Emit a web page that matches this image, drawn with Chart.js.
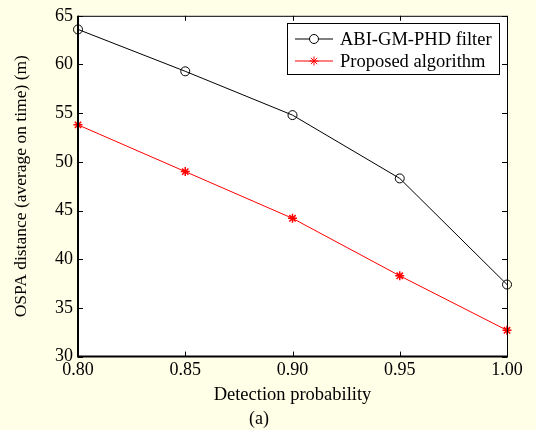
<!DOCTYPE html>
<html>
<head>
<meta charset="utf-8">
<script src="https://cdn.jsdelivr.net/npm/chart.js@4/dist/chart.umd.min.js"></script>
<style>
  html, body { margin: 0; padding: 0; background: #fffee6; }
  #wrap { width: 536px; height: 430px; }
</style>
</head>
<body>
<div id="wrap"><canvas id="lineChart"></canvas></div>
<script>
// data
var detectionProb = [0.80, 0.85, 0.90, 0.95, 1.00];
var abiGmPhd = [63.6, 59.3, 54.8, 48.3, 37.4];
var proposed = [53.8, 49.0, 44.2, 38.3, 32.7];
var xTicks = [0.80, 0.85, 0.90, 0.95, 1.00];
var yTicks = [30, 35, 40, 45, 50, 55, 60, 65];

var serif = "'Liberation Serif', 'Times New Roman', serif";

// white plot area, frame box and inward ticks on all sides
var frameTicks = {
    id: 'frameTicks',
    beforeDatasetsDraw: function (chart) {
        var a = chart.chartArea, c = chart.ctx;
        c.save();
        c.fillStyle = '#ffffff';
        c.fillRect(a.left, a.top, a.right - a.left, a.bottom - a.top);
        c.restore();
    },
    afterDraw: function (chart) {
        var a = chart.chartArea, c = chart.ctx;
        var xs = chart.scales.x, ys = chart.scales.y;
        var len = 5;
        c.save();
        c.strokeStyle = '#000';
        // top and right thin, left and bottom heavier
        c.lineWidth = 1;
        c.beginPath();
        c.moveTo(a.left, a.top + 0.5); c.lineTo(a.right + 0.5, a.top + 0.5);
        c.lineTo(a.right + 0.5, a.bottom);
        c.stroke();
        c.lineWidth = 2;
        c.beginPath();
        c.moveTo(a.left, a.top); c.lineTo(a.left, a.bottom); c.lineTo(a.right + 1, a.bottom);
        c.stroke();
        c.lineWidth = 1;
        c.beginPath();
        xTicks.forEach(function (v) {
            var px = Math.round(xs.getPixelForValue(v)) + 0.5;
            c.moveTo(px, a.bottom); c.lineTo(px, a.bottom - len);
            c.moveTo(px, a.top); c.lineTo(px, a.top + len);
        });
        yTicks.forEach(function (v) {
            var py = Math.round(ys.getPixelForValue(v)) + 0.5;
            c.moveTo(a.left, py); c.lineTo(a.left + len, py);
            c.moveTo(a.right, py); c.lineTo(a.right - len, py);
        });
        c.stroke();

        // legend box, matlab style
        var bx = 287, by = 23, bw = 212, bh = 51;
        c.fillStyle = '#fff';
        c.fillRect(bx, by, bw, bh);
        c.strokeStyle = '#000';
        c.lineWidth = 1;
        c.strokeRect(bx + 0.5, by + 0.5, bw, bh);
        c.font = '18.5px ' + serif;
        c.textBaseline = 'middle';
        chart.data.datasets.forEach(function (ds, i) {
            var ly = by + 16 + i * 22;
            c.strokeStyle = ds.borderColor;
            c.lineWidth = 1;
            c.beginPath();
            c.moveTo(bx + 8, ly); c.lineTo(bx + 46, ly);
            c.stroke();
            Chart.helpers.drawPoint(c, {
                pointStyle: ds.pointStyle,
                radius: ds.pointRadius,
                borderWidth: 1
            }, bx + 27, ly);
            c.fillStyle = '#000';
            c.fillText(ds.label, bx + 53, ly + 1);
        });
        c.restore();
    }
};

var ctx = document.getElementById('lineChart').getContext('2d');

new Chart(ctx, {
    type: 'line',
    data: {
        labels: detectionProb,
        datasets: [{
            label: 'ABI-GM-PHD filter',
            data: detectionProb.map(function (x, i) { return { x: x, y: abiGmPhd[i] }; }),
            borderColor: '#000000',
            backgroundColor: 'rgba(255,255,255,0)',
            borderWidth: 1,
            pointStyle: 'circle',
            pointRadius: 4.5,
            pointBorderWidth: 1,
            tension: 0
        }, {
            label: 'Proposed algorithm',
            data: detectionProb.map(function (x, i) { return { x: x, y: proposed[i] }; }),
            borderColor: '#ff0000',
            backgroundColor: '#ff0000',
            borderWidth: 1,
            pointStyle: 'star',
            pointRadius: 4.5,
            pointBorderWidth: 1.5,
            tension: 0
        }]
    },
    options: {
        responsive: true,
        maintainAspectRatio: false,
        animation: false,
        clip: false,
        layout: { padding: { top: 14, right: 29, left: 11, bottom: 0 } },
        plugins: {
            legend: { display: false },
            tooltip: { enabled: false },
            title: {
                display: true,
                position: 'bottom',
                text: '(a)',
                color: '#000',
                font: { family: serif, size: 18, weight: 'normal' },
                padding: { top: 2, bottom: 0 }
            }
        },
        scales: {
            x: {
                type: 'linear',
                min: 0.8,
                max: 1.0,
                afterBuildTicks: function (s) { s.ticks = xTicks.map(function (v) { return { value: v }; }); },
                ticks: {
                    color: '#000',
                    font: { family: serif, size: 18 },
                    padding: 3,
                    maxRotation: 0,
                    callback: function (v) { return Number(v).toFixed(2); }
                },
                grid: { display: false, drawTicks: false },
                border: { display: false },
                title: {
                    display: true,
                    text: 'Detection probability',
                    color: '#000',
                    font: { family: serif, size: 18.5 },
                    padding: { top: 0, bottom: 0 }
                }
            },
            y: {
                min: 30,
                max: 65,
                afterBuildTicks: function (s) { s.ticks = yTicks.map(function (v) { return { value: v }; }); },
                ticks: {
                    color: '#000',
                    font: { family: serif, size: 18 },
                    padding: 5
                },
                grid: { display: false, drawTicks: false },
                border: { display: false },
                title: {
                    display: true,
                    text: 'OSPA distance (average on time) (m)',
                    color: '#000',
                    font: { family: serif, size: 17.5 },
                    padding: { top: 0, bottom: 18 }
                }
            }
        }
    },
    plugins: [frameTicks]
});
</script>
</body>
</html>
